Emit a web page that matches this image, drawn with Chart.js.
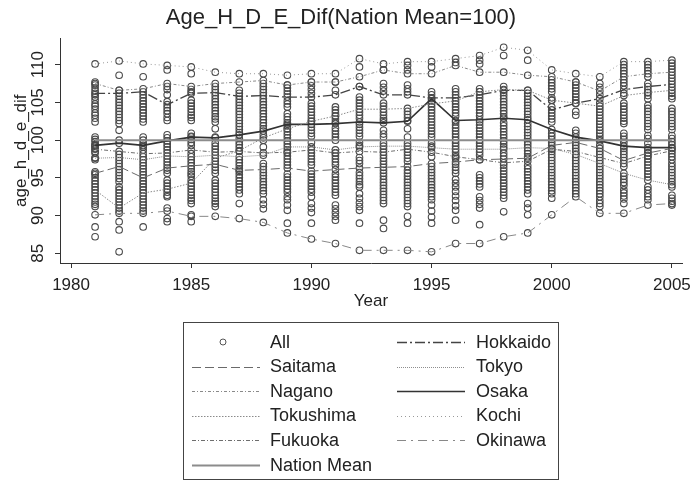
<!DOCTYPE html>
<html>
<head>
<meta charset="utf-8">
<script src="https://cdn.jsdelivr.net/npm/chart.js@4/dist/chart.umd.min.js"></script>
<style>
  html, body { margin: 0; padding: 0; background: #fff; }
  #wrap { position: relative; width: 693px; height: 483px; }
  #legend {
    position: absolute; left: 183px; top: 322px; width: 376px; height: 158px;
    border: 1px solid #444; box-sizing: border-box;
    font-family: "Liberation Sans", Arial, sans-serif; font-size: 18px; color: #222;
  }
  .item { position: absolute; height: 24px; display: flex; align-items: center; white-space: nowrap; }
  .item svg { flex: none; }
</style>
</head>
<body>
<div id="wrap">
  <canvas id="c" width="693" height="483"></canvas>
  <div id="legend"></div>
</div>
<script>
// Years on the x axis and the tick labels of both axes
const years = [1981, 1982, 1983, 1984, 1985, 1986, 1987, 1988, 1989, 1990, 1991, 1992, 1993,
               1994, 1995, 1996, 1997, 1998, 1999, 2000, 2001, 2002, 2003, 2004, 2005];
const yearTicks = [1980, 1985, 1990, 1995, 2000, 2005];
const valueTicks = [85, 90, 95, 100, 105, 110];

// Highlighted prefectures, one value per year (1981-2005)
const saitama   = [95.6, 96.5, 95.0, 96.3, 96.6, 96.8, 96.0, 96.1, 96.3, 95.9, 96.1, 96.3, 96.4,
                   96.5, 96.9, 97.1, 97.4, 97.5, 97.6, 99.3, 99.7, 98.9, 97.3, 98.3, 98.9];
const nagano    = [107.5, 106.6, 106.8, 107.5, 107.1, 107.5, 107.7, 107.9, 107.3, 107.7, 107.7, 108.4, 109.3,
                   108.8, 108.8, 109.9, 109.0, 109.0, 108.6, 108.4, 107.7, 106.5, 108.4, 108.8, 109.0];
const tokushima = [93.4, 91.0, 93.0, 93.5, 94.3, 97.6, 98.6, 100.3, 101.5, 102.5, 103.2, 104.1, 104.1,
                   104.2, 104.8, 105.2, 106.4, 106.7, 106.6, 105.3, 104.9, 104.5, 105.9, 106.3, 106.6];
const fukuoka   = [98.8, 98.5, 98.2, 98.3, 98.7, 98.4, 98.5, 98.3, 98.4, 98.7, 98.3, 98.5, 98.4,
                   98.8, 98.4, 97.8, 97.4, 97.0, 97.2, 98.8, 98.5, 97.7, 96.9, 97.9, 98.6];
const nationMean = [100, 100, 100, 100, 100, 100, 100, 100, 100, 100, 100, 100, 100,
                    100, 100, 100, 100, 100, 100, 100, 100, 100, 100, 100, 100];
const hokkaido  = [106.2, 106.2, 106.4, 104.7, 106.2, 106.3, 105.8, 105.9, 105.7, 105.7, 106.0, 107.1, 106.0,
                   106.0, 105.6, 105.6, 106.0, 106.6, 106.6, 104.0, 104.9, 105.5, 106.7, 107.1, 107.4];
const tokyo     = [97.6, 97.7, 97.4, 97.9, 97.8, 98.0, 97.8, 98.0, 99.1, 99.1, 98.7, 99.1, 99.2,
                   99.2, 99.0, 98.8, 98.8, 98.8, 99.0, 98.9, 98.1, 96.9, 95.6, 94.7, 94.1];
const osaka     = [99.3, 99.6, 99.3, 99.9, 100.4, 100.3, 100.7, 101.2, 102.1, 102.1, 102.2, 102.4, 102.3,
                   102.5, 105.5, 102.6, 102.7, 102.9, 102.7, 101.4, 100.4, 99.9, 99.2, 99.0, 99.0];
const kochi     = [110.1, 110.5, 110.1, 109.9, 109.7, 109.0, 108.8, 108.8, 108.6, 108.8, 108.8, 110.8, 110.1,
                   110.4, 110.4, 110.8, 111.2, 112.3, 111.9, 109.3, 108.8, 108.4, 110.4, 110.4, 110.6];
const okinawa   = [90.1, 90.3, 90.3, 90.6, 89.9, 89.9, 89.6, 89.1, 87.7, 86.9, 86.3, 85.4, 85.4,
                   85.4, 85.2, 86.3, 86.3, 87.2, 87.7, 90.1, 92.5, 90.3, 90.3, 91.4, 91.6];

// Remaining prefectures, one list per year
const y1981 = [107.7, 107.3, 106.9, 106.5, 106.0, 105.7, 105.3, 104.8, 104.5, 104.1, 103.6, 103.3, 102.9, 102.4,
               100.4, 100.1, 99.8, 99.4, 99.2, 98.9, 98.5, 98.3, 97.7, 97.4, 95.8, 95.4, 95.0, 94.6, 94.2,
               93.8, 93.0, 92.6, 92.2, 91.8, 91.5, 91.2, 88.5, 87.2];
const y1982 = [108.6, 106.6, 105.8, 105.4, 105.0, 104.6, 104.2, 103.8, 103.4, 103.0, 102.6, 102.2, 101.3, 100.0,
               98.1, 97.3, 96.9, 96.1, 95.7, 95.3, 94.9, 94.5, 93.8, 93.4, 93.0, 92.6, 92.2, 91.8, 91.4,
               90.6, 89.2, 88.1, 85.2];
const y1983 = [108.4, 106.0, 105.6, 105.2, 104.8, 104.4, 104.0, 103.6, 103.2, 102.8, 102.4, 100.4, 100.0, 99.6,
               99.1, 98.7, 97.8, 97.0, 96.6, 96.2, 95.8, 95.4, 94.6, 94.2, 93.8, 93.4, 92.6, 92.2, 91.8,
               91.4, 91.0, 90.6, 88.5];
const y1984 = [109.3, 107.1, 106.7, 106.0, 105.1, 104.3, 103.9, 103.5, 103.0, 102.6, 100.7, 100.3, 99.5, 99.1,
               98.7, 97.5, 97.1, 96.7, 96.0, 95.6, 94.7, 94.3, 93.9, 93.1, 92.7, 92.5, 91.0, 89.6, 89.2];
const y1985 = [108.8, 106.7, 106.4, 105.3, 104.9, 104.5, 104.1, 103.7, 103.3, 103.0, 102.6, 100.9, 100.5, 100.1,
               99.7, 99.3, 98.2, 97.4, 97.0, 96.2, 95.8, 95.5, 95.2, 94.7, 93.9, 93.5, 93.1, 92.7, 92.3,
               92.0, 91.6, 90.1, 89.2];
const y1986 = [107.1, 106.7, 105.9, 105.5, 105.1, 104.7, 104.3, 103.9, 103.5, 103.1, 102.8, 102.4, 101.5, 100.4,
               99.6, 99.2, 98.8, 97.2, 96.4, 96.0, 95.6, 94.7, 94.3, 93.9, 93.5, 93.1, 92.7, 92.3, 91.9,
               91.6, 91.2];
const y1987 = [106.6, 106.2, 105.4, 105.0, 104.6, 104.2, 103.8, 103.4, 103.0, 102.6, 102.2, 101.8, 101.4, 101.0,
               100.2, 99.8, 99.4, 99.0, 97.4, 97.0, 96.6, 96.2, 95.8, 95.4, 95.0, 94.6, 94.2, 93.8, 93.4,
               92.9, 91.6];
const y1988 = [107.5, 107.1, 106.7, 106.3, 105.5, 105.1, 104.7, 104.3, 103.9, 103.5, 103.1, 102.7, 102.3, 101.9,
               101.5, 100.7, 100.0, 99.1, 96.9, 96.5, 95.7, 95.3, 94.9, 94.5, 94.1, 93.7, 93.3, 92.9, 92.1,
               91.5, 90.9];
const y1989 = [107.3, 106.9, 106.5, 106.1, 105.2, 104.8, 104.4, 103.5, 103.1, 102.7, 102.3, 101.9, 101.5, 101.1,
               100.7, 100.3, 99.9, 99.5, 98.7, 98.3, 97.9, 97.5, 97.1, 96.7, 95.5, 95.1, 94.7, 94.3, 93.9,
               93.5, 93.1, 92.5, 92.1, 91.4, 90.7, 89.0];
const y1990 = [107.7, 107.2, 106.7, 106.2, 104.9, 104.5, 104.1, 103.7, 103.3, 102.9, 102.5, 101.7, 101.3, 100.9,
               100.5, 99.7, 98.3, 97.9, 97.5, 97.1, 96.7, 95.5, 95.1, 94.7, 94.3, 93.9, 93.5, 93.1, 92.5,
               91.6, 91.0, 90.4, 89.0];
const y1991 = [107.7, 106.6, 104.4, 104.0, 103.6, 103.2, 102.8, 102.4, 101.6, 101.2, 100.8, 100.4, 100.0, 98.3,
               97.9, 97.5, 97.1, 96.7, 95.5, 95.1, 94.7, 94.3, 93.9, 93.5, 93.1, 92.7, 91.4, 90.9, 90.4,
               89.9, 89.4];
const y1992 = [109.7, 107.1, 105.7, 105.3, 104.9, 104.5, 103.7, 103.3, 102.9, 102.1, 101.7, 101.3, 100.9, 100.5,
               99.7, 99.3, 97.7, 97.3, 96.9, 95.7, 95.3, 94.9, 94.5, 94.1, 93.8, 92.9, 92.3, 91.7, 91.2,
               90.7, 89.0];
const y1993 = [109.3, 107.5, 107.0, 106.5, 104.9, 104.5, 103.7, 103.3, 102.9, 102.6, 101.3, 100.8, 100.4, 99.6,
               98.8, 98.0, 97.6, 97.2, 96.8, 96.0, 95.6, 95.2, 94.8, 94.4, 94.0, 93.6, 93.2, 92.8, 92.4,
               92.0, 91.6, 89.4, 88.3];
const y1994 = [109.9, 109.3, 107.3, 106.8, 106.4, 103.8, 103.4, 103.0, 102.6, 101.5, 100.4, 99.6, 98.4, 98.0,
               97.6, 97.2, 96.0, 95.6, 95.2, 94.8, 94.4, 94.0, 93.6, 93.2, 92.8, 92.4, 92.0, 91.6, 91.2,
               89.9, 89.0];
const y1995 = [109.7, 106.4, 106.0, 105.2, 104.4, 104.0, 103.6, 103.2, 102.8, 102.4, 102.0, 101.6, 101.2, 100.8,
               100.4, 99.6, 99.2, 97.8, 96.5, 96.1, 95.7, 95.3, 94.9, 94.5, 94.1, 93.7, 93.3, 92.9, 92.5,
               92.1, 91.4, 90.6, 89.8, 89.0];
const y1996 = [110.3, 106.8, 106.4, 106.0, 104.8, 104.4, 104.0, 103.6, 103.2, 102.4, 102.0, 101.6, 101.2, 100.8,
               100.4, 100.0, 99.6, 99.2, 98.4, 98.0, 97.6, 96.8, 96.4, 96.0, 95.6, 94.8, 94.3, 93.8, 93.2,
               92.6, 92.0, 91.3, 90.7, 89.4];
const y1997 = [110.6, 110.1, 106.8, 106.4, 105.6, 105.2, 104.8, 104.4, 104.0, 103.6, 103.2, 102.4, 102.0, 101.6,
               101.2, 100.8, 100.4, 100.0, 99.6, 99.2, 98.4, 98.0, 95.4, 95.0, 94.6, 94.2, 93.8, 92.5, 92.0,
               91.5, 91.0, 88.8];
const y1998 = [111.2, 107.1, 106.3, 105.9, 105.5, 105.1, 104.7, 104.3, 103.9, 103.5, 103.1, 102.3, 101.9, 101.5,
               101.1, 100.7, 100.3, 99.9, 99.5, 99.1, 98.3, 97.9, 96.7, 96.3, 95.9, 95.5, 95.1, 94.7, 94.3,
               93.9, 93.5, 93.1, 92.7, 92.3, 90.5];
const y1999 = [110.6, 106.2, 105.8, 105.4, 105.0, 104.6, 104.2, 103.8, 103.4, 103.0, 102.2, 101.8, 101.4, 101.0,
               100.6, 100.2, 99.8, 99.4, 98.6, 98.2, 97.8, 96.6, 96.2, 95.8, 95.4, 95.0, 94.6, 94.2, 93.8,
               93.4, 92.9, 91.6, 91.0, 90.1];
const y2000 = [108.0, 107.6, 107.2, 106.8, 106.4, 105.6, 105.3, 104.4, 103.6, 103.2, 102.8, 102.4, 100.9, 100.5,
               100.1, 99.7, 98.5, 98.1, 97.7, 97.3, 96.9, 96.5, 96.1, 95.7, 95.3, 94.9, 94.5, 94.1, 93.7,
               93.3, 92.9, 92.3];
const y2001 = [107.7, 107.3, 106.9, 106.5, 106.1, 105.7, 105.3, 103.8, 103.3, 101.3, 100.9, 100.1, 99.3, 98.9,
               98.1, 97.7, 97.3, 96.9, 96.5, 96.1, 95.7, 95.3, 94.9, 94.5, 94.1, 93.7, 93.3, 92.9];
const y2002 = [107.5, 107.0, 106.0, 104.9, 104.1, 103.7, 103.3, 102.9, 102.5, 102.1, 101.7, 101.3, 100.9, 100.5,
               100.1, 99.3, 98.5, 98.1, 97.3, 96.5, 96.1, 95.7, 95.3, 94.9, 94.5, 94.1, 93.7, 93.3, 92.9,
               92.5, 92.0, 91.6, 91.2];
const y2003 = [110.0, 109.6, 109.2, 108.8, 108.0, 107.6, 107.2, 106.2, 104.9, 104.5, 104.1, 103.7, 103.3, 102.9,
               102.5, 102.2, 100.9, 100.5, 100.1, 99.7, 98.9, 98.5, 98.1, 97.7, 96.5, 95.2, 94.8, 94.4, 94.0,
               93.4, 93.0, 92.6, 92.2, 91.6];
const y2004 = [110.0, 109.6, 109.2, 108.4, 107.5, 106.7, 106.3, 105.9, 105.5, 104.6, 104.2, 103.8, 103.4, 103.0,
               102.6, 102.2, 101.8, 101.4, 100.6, 100.2, 99.6, 98.7, 98.3, 97.9, 97.5, 97.1, 96.7, 96.3, 95.9,
               95.5, 95.1, 93.8, 93.4, 92.9, 92.5, 92.1];
const y2005 = [110.2, 109.8, 109.4, 108.6, 108.2, 107.8, 107.0, 106.2, 105.8, 105.5, 104.2, 103.8, 103.4, 103.0,
               102.6, 102.2, 101.8, 101.4, 100.6, 100.2, 99.8, 99.4, 98.2, 97.8, 97.4, 96.9, 96.5, 96.1, 95.7,
               95.3, 94.9, 94.5, 93.8, 92.7, 92.3, 91.9, 91.4];

const othersByYear = [y1981, y1982, y1983, y1984, y1985, y1986, y1987, y1988, y1989, y1990, y1991, y1992, y1993,
                      y1994, y1995, y1996, y1997, y1998, y1999, y2000, y2001, y2002, y2003, y2004, y2005];
const highlighted = [saitama, nagano, tokushima, fukuoka, hokkaido, tokyo, osaka, kochi, okinawa];

// Every prefecture for every year: the remaining ones plus the highlighted ones
const allPoints = [];
years.forEach((yr, i) => {
  othersByYear[i].forEach(v => allPoints.push({ x: yr, y: v }));
  highlighted.forEach(arr => allPoints.push({ x: yr, y: arr[i] }));
});

const toXY = arr => arr.map((v, i) => ({ x: years[i], y: v }));
const FONT = '"Liberation Sans", Arial, sans-serif';

function lineSet(label, arr, color, width, dash) {
  return {
    label, data: toXY(arr), showLine: true, borderColor: color, backgroundColor: color,
    borderWidth: width, borderDash: dash, pointRadius: 0, tension: 0, order: 1
  };
}

const datasets = [
  { label: 'All', data: allPoints, showLine: false, pointRadius: 3.3, pointStyle: 'circle',
    borderColor: '#4a4a4a', backgroundColor: 'rgba(0,0,0,0)', pointBorderWidth: 1.1, order: 5 },
  lineSet('Saitama', saitama, '#6a6a6a', 1, [9, 4]),
  lineSet('Nagano', nagano, '#8a8a8a', 1, [3, 2, 1, 2]),
  lineSet('Tokushima', tokushima, '#8a8a8a', 1, [1.5, 1.5]),
  lineSet('Fukuoka', fukuoka, '#6e6e6e', 1, [4, 2, 1, 2]),
  lineSet('Nation Mean', nationMean, '#8c8c8c', 2, []),
  lineSet('Hokkaido', hokkaido, '#444', 1.3, [10, 3, 2, 3]),
  lineSet('Tokyo', tokyo, '#8e8e8e', 1, [1, 1]),
  lineSet('Osaka', osaka, '#333', 1.7, []),
  lineSet('Kochi', kochi, '#999', 1, [1, 3]),
  lineSet('Okinawa', okinawa, '#888', 1, [9, 5, 2, 5])
];

const chart = new Chart(document.getElementById('c'), {
  type: 'scatter',
  data: { datasets },
  options: {
    responsive: false,
    animation: false,
    events: [],
    layout: { padding: { left: 0, right: 11, top: 0, bottom: 171 } },
    plugins: {
      legend: { display: false },
      tooltip: { enabled: false },
      title: {
        display: true, text: 'Age_H_D_E_Dif(Nation Mean=100)', color: '#222',
        font: { family: FONT, size: 22, weight: 'normal' }, padding: { top: 5, bottom: 7 }
      }
    },
    scales: {
      x: {
        type: 'linear', min: 1979.54, max: 2005.42,
        afterBuildTicks: s => { s.ticks = yearTicks.map(v => ({ value: v })); },
        afterFit: s => { s.height = 49; s.paddingLeft = 0; s.paddingRight = 0; },
        grid: { drawOnChartArea: false, drawTicks: true, tickLength: 5, color: '#333', lineWidth: 1 },
        border: { display: true, color: '#333', width: 1 },
        ticks: { color: '#222', font: { family: FONT, size: 17 }, padding: 7, maxRotation: 0, minRotation: 0,
                 callback: v => String(v) },
        title: { display: true, text: 'Year', color: '#222', font: { family: FONT, size: 17 },
                 padding: { top: 0, bottom: 0 } }
      },
      y: {
        type: 'linear', min: 83.72, max: 113.48,
        afterBuildTicks: s => { s.ticks = valueTicks.map(v => ({ value: v })); },
        afterFit: s => { s.width = 60; s.paddingTop = 0; s.paddingBottom = 0; },
        grid: { drawOnChartArea: false, drawTicks: true, tickLength: 5, color: '#333', lineWidth: 1 },
        border: { display: true, color: '#333', width: 1 },
        ticks: { color: '#222', font: { family: FONT, size: 17 }, minRotation: 90, maxRotation: 90,
                 crossAlign: 'center', padding: 3, callback: v => String(v) },
        title: { display: true, text: 'age_h_d_e_dif', color: '#222', font: { family: FONT, size: 17 },
                 padding: { top: 11, bottom: 0 } }
      }
    }
  }
});

// Boxed two-column legend below the plot, built from the chart's datasets
(function buildLegend() {
  const box = document.getElementById('legend');
  const ds = chart.data.datasets;
  const leftCount = 6;
  ds.forEach((d, i) => {
    const col = i < leftCount ? 0 : 1;
    const row = col === 0 ? i : i - leftCount;
    const item = document.createElement('div');
    item.className = 'item';
    item.style.left = (col === 0 ? 8 : 213) + 'px';
    item.style.top = (7 + row * 24.6) + 'px';
    const w = 68;
    let sample;
    if (d.showLine === false) {
      sample = `<svg width="${w}" height="24"><circle cx="${w / 2 - 3}" cy="12" r="3" fill="none" stroke="#555" stroke-width="1"/></svg>`;
    } else {
      const dash = (d.borderDash || []).join(',');
      sample = `<svg width="${w}" height="24"><line x1="0" y1="12.5" x2="${w}" y2="12.5" stroke="${d.borderColor}" stroke-width="${d.borderWidth}"${dash ? ` stroke-dasharray="${dash}"` : ''}/></svg>`;
    }
    item.innerHTML = sample + `<span style="margin-left:${col === 0 ? 10 : 11}px">${d.label}</span>`;
    box.appendChild(item);
  });
})();
</script>
</body>
</html>
